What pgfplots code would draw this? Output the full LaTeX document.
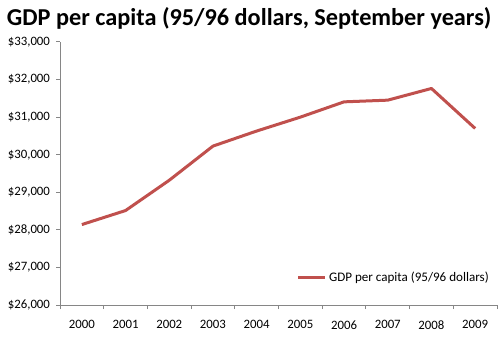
\documentclass[border=0pt]{standalone}
\usepackage{pgfplots}
\pgfplotsset{compat=1.18}
\usepackage{fontspec}
\setmainfont{Carlito}
\definecolor{exred}{HTML}{C0504D}
\definecolor{axgray}{HTML}{868686}
\begin{document}
\begin{tikzpicture}[x=1pt,y=1pt]
\begin{axis}[
  scale only axis,
  width=327.75pt, height=197.25pt,
  xmin=-0.5, xmax=9.5,
  ymin=26000, ymax=33000,
  scaled y ticks=false,
  axis x line*=bottom, axis y line*=left,
  axis line style={axgray, line width=0.75pt},
  xtick={0,...,9},
  xticklabels={2000,2001,2002,2003,2004,2005,2006,2007,2008,2009},
  minor xtick={-0.5,0.5,...,9.5},
  major x tick style={draw=none},
  minor x tick style={axgray, line width=0.75pt},
  ytick={26000,27000,...,33000},
  yticklabels={{\$26,000},{\$27,000},{\$28,000},{\$29,000},{\$30,000},{\$31,000},{\$32,000},{\$33,000}},
  y tick style={axgray, line width=0.75pt},
  tick align=outside,
  major tick length=3pt, minor tick length=3pt,
  tick label style={font=\fontsize{9.6}{11}\selectfont, text=black},
  xticklabel style={yshift=-5pt},
  yticklabel style={xshift=-1pt},
  legend style={draw=none, fill=none, at={(1,0)}, anchor=south east, xshift=-4pt, yshift=14pt,
    font=\fontsize{9.8}{11}\selectfont, inner sep=0pt, row sep=0pt},
  legend cell align=left,
  legend image code/.code={\draw[#1, line width=2.25pt] (0pt,0pt) -- (20pt,0pt);},
  clip=false,
]
\addplot[exred, line width=2.25pt, line join=round] coordinates {
 (0,28141) (1,28514) (2,29320) (3,30229) (4,30630) (5,31000)
 (6,31407) (7,31452) (8,31763) (9,30699)
};
\addlegendentry{GDP per capita (95/96 dollars)}
\end{axis}
\node[font=\bfseries\fontsize{18.2}{21}\selectfont, anchor=center] at ([xshift=-22pt, yshift=18pt]current axis.north) {GDP per capita (95/96 dollars, September years)};
\pgfresetboundingbox
\path[use as bounding box] ([xshift=-45pt,yshift=-27pt]current axis.south west) rectangle ([xshift=2.25pt,yshift=31.5pt]current axis.north east);
\end{tikzpicture}
\end{document}
